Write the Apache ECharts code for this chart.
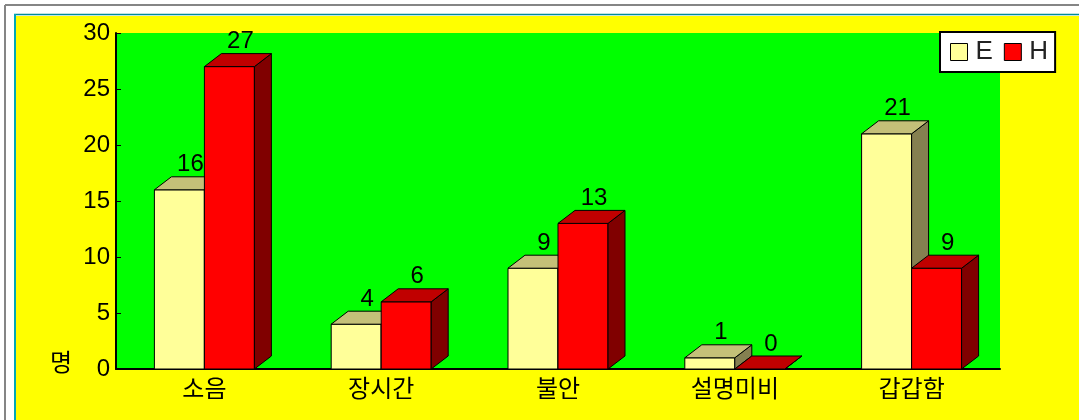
<!DOCTYPE html>
<html>
<head>
<meta charset="utf-8">
<script src="https://cdn.jsdelivr.net/npm/echarts@6/dist/echarts.min.js"></script>
<style>
  html, body { margin: 0; padding: 0; background: #ffffff; }
  #chart { width: 1079px; height: 420px; }
</style>
</head>
<body>
<div id="chart"></div>
<script>
var categories = ['소음', '장시간', '불안', '설명미비', '갑갑함'];
var seriesNames = ['E', 'H'];
var valuesE = [16, 4, 9, 1, 21];
var valuesH = [27, 6, 13, 0, 9];
var yTicks = { min: 0, max: 30, interval: 5 };
var yName = '명';

var BAR_FRAC = 50 / 176.8;
var DEPTH_FRAC = 17 / 176.8;
var DEPTH_Y = 13;
var NUM_FONT = '24px "Liberation Sans", Arial, sans-serif';
var KR_FONT = '"Noto Sans CJK KR", "Noto Sans", sans-serif';

function renderBar(side, cols) {
  return function (params, api) {
    var i = api.value(0), v = api.value(1);
    var p0 = api.coord([i, 0]);
    var p1 = api.coord([i, v]);
    var cw = api.size([1, 0])[0];
    var bw = cw * BAR_FRAC;
    var dx = cw * DEPTH_FRAC, dy = DEPTH_Y;
    var x0 = side < 0 ? p0[0] - bw : p0[0];
    var x1 = x0 + bw;
    var yb = p0[1], yt = p1[1];
    function st(fill) { return { fill: fill, stroke: '#000', lineWidth: 1, lineJoin: 'round' }; }
    return {
      type: 'group',
      children: [
        { type: 'polygon', shape: { points: [[x0, yb], [x1, yb], [x1, yt], [x0, yt]] }, style: st(cols.front) },
        { type: 'polygon', shape: { points: [[x1, yb], [x1 + dx, yb - dy], [x1 + dx, yt - dy], [x1, yt]] }, style: st(cols.side) },
        { type: 'polygon', shape: { points: [[x0, yt], [x1, yt], [x1 + dx, yt - dy], [x0 + dx, yt - dy]] }, style: st(cols.top) },
        { type: 'text', style: { text: String(v), x: (x0 + x1) / 2 + 11, y: yt - dy, align: 'center', verticalAlign: 'bottom', font: NUM_FONT, fill: '#000' } }
      ]
    };
  };
}

var colE = { front: '#FFFF99', top: '#C4C078', side: '#858050' };
var colH = { front: '#FF0000', top: '#C00000', side: '#800000' };

var chart = echarts.init(document.getElementById('chart'), null, { renderer: 'canvas' });
chart.setOption({
  backgroundColor: '#ffffff',
  animation: false,
  graphic: [
    { type: 'rect', z: -10, shape: { x: 16, y: 16, width: 1063, height: 404 }, style: { fill: '#FFFF00' } },
    { type: 'line', z: -9, shape: { x1: 5, y1: 5, x2: 1079, y2: 5 }, style: { stroke: '#858585', lineWidth: 2 } },
    { type: 'line', z: -9, shape: { x1: 5, y1: 5, x2: 5, y2: 420 }, style: { stroke: '#858585', lineWidth: 2 } },
    { type: 'line', z: -9, shape: { x1: 14, y1: 14.5, x2: 1079, y2: 14.5 }, style: { stroke: '#008C9A', lineWidth: 1.5 } },
    { type: 'line', z: -9, shape: { x1: 15, y1: 14, x2: 15, y2: 420 }, style: { stroke: '#00A8B8', lineWidth: 2 } },
    { type: 'text', z: 5, style: { text: yName, x: 61, y: 362, align: 'center', verticalAlign: 'middle', font: '24px ' + KR_FONT, fill: '#000' } }
  ],
  grid: {
    left: 116, right: 79, top: 33, bottom: 51,
    show: true, backgroundColor: '#00FF00', borderWidth: 0
  },
  legend: {
    data: seriesNames,
    left: 940, top: 32,
    padding: [7, 7, 7, 10],
    itemWidth: 17, itemHeight: 17, itemGap: 11,
    icon: 'rect',
    backgroundColor: '#ffffff',
    borderColor: '#000', borderWidth: 2,
    itemStyle: { borderColor: '#000', borderWidth: 1 },
    textStyle: { fontSize: 26, color: '#222', fontFamily: '"Liberation Sans", Arial, sans-serif', padding: [0, 0, 0, 3] }
  },
  xAxis: {
    type: 'category',
    data: categories,
    boundaryGap: true,
    axisLine: { lineStyle: { color: '#000', width: 2 } },
    axisTick: { inside: true, length: 5, lineStyle: { color: '#000', width: 1 } },
    axisLabel: { fontSize: 24, color: '#000', fontFamily: KR_FONT, margin: 7 }
  },
  yAxis: {
    type: 'value',
    min: yTicks.min, max: yTicks.max, interval: yTicks.interval,
    axisLine: { show: true, lineStyle: { color: '#000', width: 2 } },
    axisTick: { show: true, inside: true, length: 5, lineStyle: { color: '#000', width: 1 } },
    splitLine: { show: false },
    axisLabel: { fontSize: 24, color: '#000', fontFamily: '"Liberation Sans", Arial, sans-serif', margin: 6 }
  },
  series: [
    {
      name: seriesNames[0], type: 'custom',
      itemStyle: { color: colE.front },
      encode: { x: 0, y: 1 },
      data: valuesE.map(function (v, i) { return [i, v]; }),
      renderItem: renderBar(-1, colE)
    },
    {
      name: seriesNames[1], type: 'custom',
      itemStyle: { color: colH.front },
      encode: { x: 0, y: 1 },
      data: valuesH.map(function (v, i) { return [i, v]; }),
      renderItem: renderBar(1, colH)
    }
  ]
});
</script>
</body>
</html>
